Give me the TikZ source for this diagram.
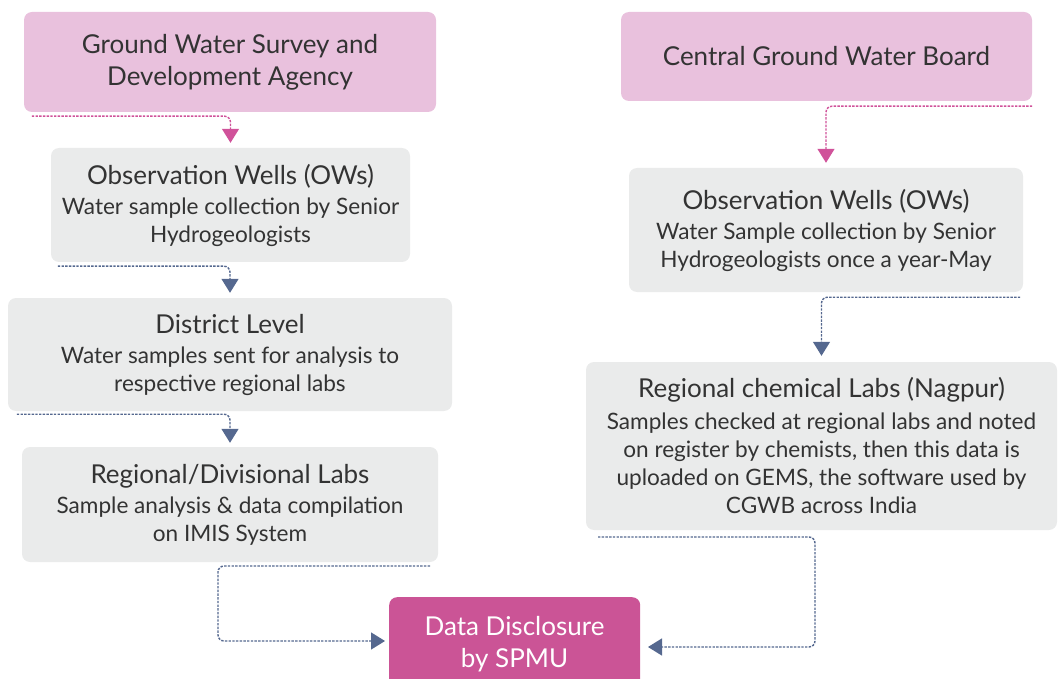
\documentclass[tikz,border=0pt]{standalone}
\usepackage{fontspec}
\setmainfont{Lato}
\usetikzlibrary{arrows.meta,calc}
\definecolor{pinkfill}{HTML}{E9C1DD}
\definecolor{grayfill}{HTML}{EAEBEB}
\definecolor{datafill}{HTML}{CB5496}
\definecolor{pinkline}{HTML}{D0529A}
\definecolor{blueline}{HTML}{55688F}
\definecolor{txt}{HTML}{333333}
\tikzset{
  pinkbox/.style={fill=pinkfill, rounded corners=8pt, align=center, text=txt, font=\fontsize{26}{32}\selectfont, inner sep=0pt},
  graybox/.style={fill=grayfill, rounded corners=8pt, align=center, text=txt, inner sep=0pt, font=\fontsize{22.6}{28}\selectfont},
  databox/.style={fill=datafill, rounded corners=8pt, inner sep=0pt},
  conn/.style={line width=1.4pt, dash pattern=on 2.4pt off 1.3pt, rounded corners=6pt, -{Triangle[width=17pt,length=14pt]}},
  pinkconn/.style={conn, pinkline},
  blueconn/.style={conn, blueline},
}
\newcommand{\ttl}[1]{{\fontsize{26}{30}\selectfont #1}}
\begin{document}
\begin{tikzpicture}[x=1pt,y=-1pt]
\useasboundingbox (0,0) rectangle (1058,679);
% left column
\node[pinkbox, minimum width=412pt, minimum height=100pt] (gw) at (230,62) {Ground Water Survey and\\Development Agency};
\node[graybox, minimum width=359pt, minimum height=114pt] (ow1) at (230.5,205) {\ttl{Observation Wells (OWs)}\\[2pt]Water sample collection by Senior\\Hydrogeologists};
\node[graybox, minimum width=444pt, minimum height=113pt] (dl) at (230,354.5) {\ttl{District Level}\\[2pt]Water samples sent for analysis to\\respective regional labs};
\node[graybox, minimum width=416pt, minimum height=115pt] (rd) at (230,504.5) {\ttl{Regional/Divisional Labs}\\[2pt]Sample analysis \& data compilation\\on IMIS System};
% right column
\node[pinkbox, minimum width=411pt, minimum height=89pt] (cg) at (826.5,56.5) {Central Ground Water Board};
\node[graybox, minimum width=394pt, minimum height=124pt] (ow2) at (826,230) {\ttl{Observation Wells (OWs)}\\[2pt]Water Sample collection by Senior\\Hydrogeologists once a year-May};
\node[graybox, minimum width=471pt, minimum height=168pt] (rc) at (821.5,446) {\ttl{Regional chemical Labs (Nagpur)}\\[4pt]Samples checked at regional labs and noted\\on register by chemists, then this data is\\uploaded on GEMS, the software used by\\CGWB across India};
% data disclosure
\node[databox, minimum width=251pt, minimum height=96pt, anchor=north west] (dd) at (389,597) {};
\node[text=white, align=center, font=\fontsize{26}{32}\selectfont, anchor=north, inner sep=0pt] (ddt) at (514.5,616) {Data Disclosure\\by SPMU};
% connectors
\coordinate (s1) at ($(gw.south west)+(8,4)$);
\draw[pinkconn] (s1) -| ([yshift=5pt]ow1.north);
\coordinate (s2) at ($(ow1.south west)+(7,4)$);
\draw[blueconn] (s2) -| ([yshift=5pt]dl.north);
\coordinate (s3) at ($(dl.south west)+(9,3)$);
\draw[blueconn] (s3) -| ([yshift=4pt]rd.north);
\coordinate (s4) at ($(cg.south east)+(0,5)$);
\draw[pinkconn] (s4) -| ([yshift=5pt]ow2.north);
\coordinate (s5) at ($(ow2.south east)+(-3,5)$);
\draw[blueconn] (s5) -| ([yshift=6pt]rc.north);
\coordinate (s6) at (430,566);
\coordinate (c6) at (218,641);
\coordinate (e6) at (385,641);
\draw[blueconn] (s6) -| (c6) -- (e6);
\coordinate (s7) at (598,537);
\coordinate (c7) at (815,647);
\coordinate (e7) at (648,647);
\draw[blueconn] (s7) -| (c7) -- (e7);
\end{tikzpicture}
\end{document}
